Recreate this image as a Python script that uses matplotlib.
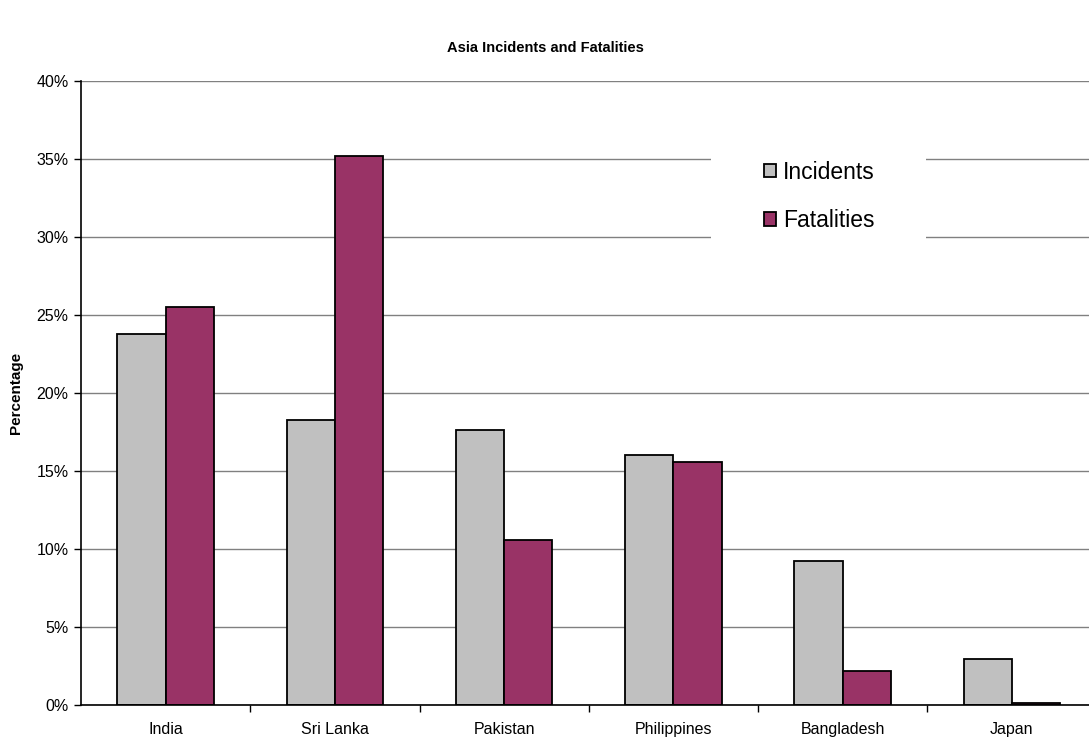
import matplotlib.pyplot as plt
from matplotlib.patches import Rectangle
import numpy as np

plt.rcParams['font.family'] = ['Liberation Sans', 'DejaVu Sans']

countries = ["India", "Sri Lanka", "Pakistan", "Philippines", "Bangladesh", "Japan"]
incidents = [23.8, 18.3, 17.6, 16.0, 9.2, 2.95]
fatalities = [25.5, 35.2, 10.6, 15.6, 2.2, 0.13]

grey = "#C0C0C0"
maroon = "#993366"

fig = plt.figure(figsize=(10.89, 7.38), dpi=100)
# axes runs slightly past the right edge, like the original export
ax = fig.add_axes([81 / 1089, 33 / 738, 1015.5 / 1089, 624 / 738])

x = np.arange(len(countries))
w = 0.285
ax.bar(x - w / 2, incidents, w, color=grey, edgecolor="black", linewidth=1.3,
       label="Incidents", zorder=2)
ax.bar(x + w / 2, fatalities, w, color=maroon, edgecolor="black", linewidth=1.3,
       label="Fatalities", zorder=2)

ax.set_xlim(-0.5, len(countries) - 0.5)
ax.set_ylim(0, 40)
ax.set_yticks(np.arange(0, 41, 5))
ax.set_yticklabels([f"{v}%" for v in range(0, 41, 5)])
ax.yaxis.grid(True, color="#808080", linewidth=1.0, zorder=0)
ax.set_axisbelow(True)

ax.set_xticks(x)
ax.set_xticklabels(countries)
ax.set_xticks(np.arange(0.5, len(countries) - 0.5, 1), minor=True)
ax.tick_params(axis="x", which="major", length=0, pad=12, labelsize=11.5)
ax.tick_params(axis="x", which="minor", length=5, width=1, direction="out")
ax.tick_params(axis="y", length=5, width=1, direction="out", pad=4, labelsize=11.5)

for s in ["top", "right"]:
    ax.spines[s].set_visible(False)
ax.spines["left"].set_linewidth(1.2)
ax.spines["bottom"].set_linewidth(1.2)

ax.set_ylabel("Percentage", fontsize=11, fontweight="bold")
ax.yaxis.set_label_coords(-0.057, 0.5)
fig.suptitle("Asia Incidents and Fatalities", fontsize=10.5, fontweight="bold",
             x=545 / 1089, y=1 - 48 / 738, va="center")

# white box behind the legend that blanks out the gridlines
ax.add_patch(Rectangle((0.620, 0.729), 0.212, 0.168, transform=ax.transAxes,
                       facecolor="white", edgecolor="none", zorder=1))

ax.legend(loc="center left", bbox_to_anchor=(0.661, 0.815), frameon=False,
          fontsize=16.5, borderpad=0, handlelength=0.55, handleheight=0.55,
          handletextpad=0.3, labelspacing=1.12)

fig.savefig("out.png", dpi=100)
